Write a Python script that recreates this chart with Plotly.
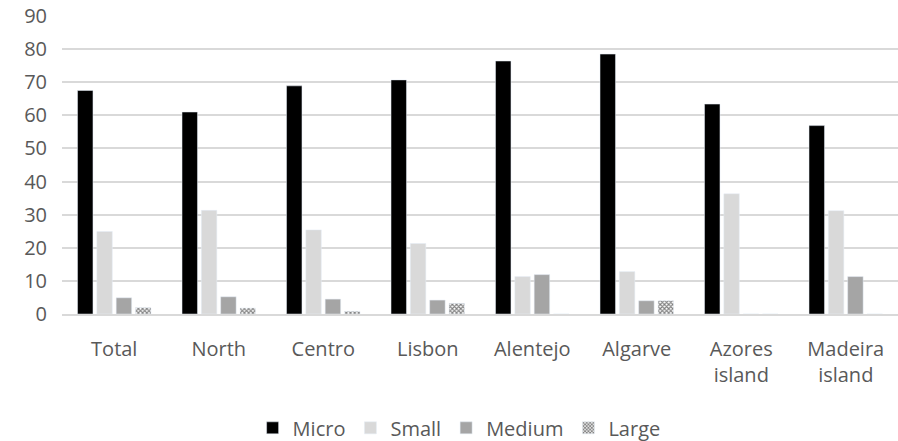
import plotly.graph_objects as go

regions = ["Total", "North", "Centro", "Lisbon", "Alentejo", "Algarve",
           "Azores<br>island", "Madeira<br>island"]

micro = [67.5, 61.0, 68.9, 70.7, 76.4, 78.5, 63.4, 56.9]
small = [24.9, 31.3, 25.4, 21.3, 11.3, 12.8, 36.3, 31.2]
medium = [4.9, 5.2, 4.5, 4.2, 11.9, 4.0, 0, 11.3]
large = [1.9, 1.8, 0.8, 3.2, 0, 4.0, 0, 0]

text_color = "#595959"
grid_color = "#d9d9d9"

fig = go.Figure()
fig.add_bar(name="Micro", x=regions, y=micro, marker_color="#000000")
fig.add_bar(name="Small", x=regions, y=small, marker_color="#d9d9d9")
fig.add_bar(name="Medium", x=regions, y=medium, marker_color="#a5a5a5")
fig.add_bar(name="Large", x=regions, y=large,
            marker=dict(color="#ffffff",
                        pattern=dict(shape="x", fgcolor="#000000", bgcolor="#ffffff",
                                     size=3, solidity=0.6)))

fig.update_layout(
    width=898, height=441,
    margin=dict(l=62, r=0, t=16, b=126.5, autoexpand=False),
    paper_bgcolor="#ffffff", plot_bgcolor="#ffffff",
    font=dict(family="Open Sans", size=20, color=text_color),
    barmode="group", bargap=0.26, bargroupgap=0.2,
    showlegend=True,
    legend=dict(orientation="h", x=0.475, xanchor="center", y=-0.382, yanchor="middle",
                font=dict(size=20, color=text_color), itemwidth=30,
                traceorder="normal"),
)
fig.update_yaxes(range=[0, 90], dtick=10, showgrid=True, gridcolor=grid_color,
                 gridwidth=1.5, zeroline=False, showline=False, automargin=False,
                 tickfont=dict(size=20, color=text_color), ticklabelstandoff=14)
fig.update_xaxes(showline=True, linecolor=grid_color, linewidth=1.5, automargin=False,
                 tickfont=dict(size=20, color=text_color), ticklabelstandoff=16)

fig.write_html("out.html")
